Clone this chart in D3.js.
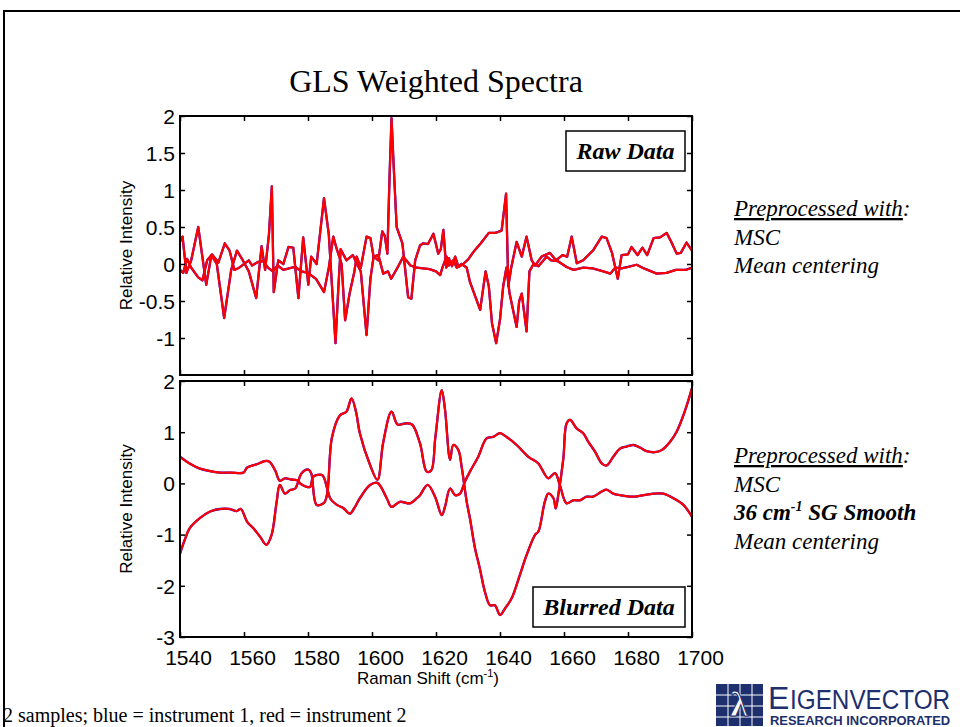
<!DOCTYPE html>
<html>
<head>
<meta charset="utf-8">
<script src="https://cdn.jsdelivr.net/npm/d3@7"></script>
<style>
  body { margin: 0; background: #fff; }
  svg { display: block; }
</style>
</head>
<body>
<div id="chart"></div>
<script>
// x ticks (Raman shift, cm-1)
const xTicks = [1540, 1560, 1580, 1600, 1620, 1640, 1660, 1680, 1700];
const rawYTicks = [-1, -0.5, 0, 0.5, 1, 1.5, 2];
const blurYTicks = [-3, -2, -1, 0, 1, 2];

// raw spectra, [wavenumber, intensity]
const rawSample1 = [[1540,0.30],[1540.8,0.37],[1542,-0.12],[1543.5,0.05],[1545.7,0.50],[1548.2,-0.28],[1549.8,0.12],[1551.5,0.00],[1553.8,-0.73],[1556,-0.08],[1557.8,0.18],[1559.5,0.06],[1561.5,-0.10],[1563.8,-0.46],[1565.5,0.24],[1566.6,-0.08],[1567.8,0.40],[1568.7,1.05],[1569.3,-0.38],[1570.7,0.05],[1572.3,0.00],[1573.9,0.23],[1575.4,0.22],[1577,-0.46],[1578.5,0.36],[1580.1,-0.28],[1581,0.10],[1582.7,0.00],[1585,0.89],[1586.5,0.40],[1587.5,-0.30],[1588.6,-1.07],[1589.5,-0.30],[1590.2,0.20],[1592,0.05],[1594,0.12],[1596.5,-0.10],[1598.3,-0.96],[1599.5,-0.20],[1600.5,0.10],[1602,0.05],[1603.2,0.44],[1604,0.38],[1604.8,0.14],[1605.5,1.20],[1606.1,1.97],[1606.8,1.30],[1607.7,0.50],[1609.5,0.28],[1611.3,-0.45],[1612.3,-0.47],[1613.5,0.05],[1615,0.25],[1616,0.28],[1617.5,0.27],[1619.2,0.41],[1620.7,0.14],[1621.5,0.20],[1622.3,0.46],[1623.2,-0.05],[1624,0.08],[1625,-0.03],[1626,0.10],[1627,-0.04],[1628.5,0.00],[1630,0.06],[1632,0.18],[1634,0.28],[1636.5,0.42],[1638.5,0.42],[1640.5,0.45],[1641.9,0.95],[1642.6,-0.30],[1643.5,-0.05],[1645.2,0.30],[1646.8,0.10],[1648.3,0.37],[1649.9,0.05],[1651,-0.02],[1653,0.10],[1655.6,0.15],[1657.5,0.05],[1659.5,0.12],[1661,0.10],[1662.4,0.37],[1664,0.01],[1666,0.05],[1669.2,0.19],[1671.8,0.37],[1673.3,0.35],[1675,0.15],[1676.8,-0.20],[1678,0.12],[1680,0.13],[1681.1,0.23],[1683,0.12],[1684.5,0.22],[1686,0.12],[1688,0.35],[1690,0.36],[1692.1,0.42],[1693.5,0.30],[1695.2,0.14],[1696.5,0.15],[1698.3,0.29],[1700,0.18]];
const rawSample2 = [[1540,-0.08],[1541,-0.12],[1542.2,0.07],[1543.5,-0.05],[1545.7,-0.18],[1547,-0.22],[1548.5,0.05],[1550,0.13],[1552,0.02],[1554,0.28],[1555.5,0.18],[1557,-0.08],[1558.5,-0.05],[1560,0.00],[1561.5,0.05],[1562.5,-0.02],[1564.5,0.03],[1566,0.04],[1567.5,-0.05],[1569,-0.10],[1570.5,-0.02],[1572.3,-0.08],[1574,-0.06],[1576,-0.04],[1578,-0.10],[1580,-0.12],[1582.5,-0.20],[1585,-0.38],[1586.5,-0.05],[1587.9,0.37],[1589,0.20],[1590.5,0.00],[1591.6,-0.76],[1593,-0.40],[1594.5,-0.10],[1595.2,0.10],[1596.5,-0.05],[1598.3,0.37],[1599.5,0.35],[1600.5,0.10],[1602,0.12],[1603.5,-0.13],[1605,-0.10],[1606,-0.20],[1607.7,-0.07],[1609.8,0.10],[1612,-0.02],[1614,-0.05],[1616,-0.06],[1618,-0.07],[1620,-0.10],[1621.3,-0.15],[1622,-0.05],[1623.3,0.10],[1624,-0.02],[1625.4,0.05],[1626.5,-0.05],[1628,0.00],[1629.6,-0.05],[1630.6,-0.24],[1633.8,-0.62],[1635.5,-0.10],[1636.5,-0.30],[1637.5,-0.80],[1638.8,-1.07],[1640,-0.75],[1641,-0.30],[1642,-0.05],[1643,-0.40],[1645.2,-0.85],[1646,-0.50],[1646.8,-0.40],[1648.3,-0.91],[1649.2,-0.10],[1650.5,0.00],[1652,-0.03],[1654.6,0.10],[1656,0.05],[1658,0.04],[1660.8,-0.04],[1663,-0.08],[1666,-0.05],[1669,-0.06],[1672.3,-0.10],[1674.5,-0.13],[1676,-0.05],[1678,-0.06],[1680,-0.04],[1682.7,-0.01],[1685,-0.06],[1689,-0.13],[1692,-0.12],[1695,-0.08],[1698,-0.08],[1700,-0.05]];

// smoothed ("blurred") spectra
const blurSample1 = [[1540,0.52],[1543,0.39],[1546.2,0.29],[1549.4,0.24],[1552.5,0.21],[1556,0.21],[1559.8,0.21],[1561,0.31],[1563.8,0.37],[1566.9,0.44],[1568,0.42],[1569.7,0.26],[1571.2,0.05],[1572.8,0.10],[1574.5,0.08],[1576.5,0.06],[1578,-0.02],[1580.6,-0.07],[1581.5,0.12],[1582.5,0.16],[1584.5,0.16],[1586,-0.10],[1587,-0.30],[1589,-0.42],[1591,-0.48],[1593.1,-0.59],[1594.5,-0.48],[1596.2,-0.29],[1599.4,-0.03],[1601.7,0.01],[1604.6,-0.29],[1606.1,-0.46],[1608.7,-0.36],[1611.9,-0.39],[1614,-0.29],[1615,-0.23],[1617.4,-0.03],[1619.7,-0.26],[1621.8,-0.62],[1622.8,-0.46],[1624.4,-0.10],[1626,-0.23],[1627.5,-0.20],[1629,0.03],[1630.6,0.23],[1633.2,0.52],[1635.8,0.88],[1637.9,0.91],[1640,0.98],[1642,0.91],[1645.2,0.75],[1648.9,0.52],[1652,0.39],[1653,0.29],[1655.1,0.10],[1657.2,0.20],[1658.7,-0.03],[1660.8,-0.39],[1662.9,-0.33],[1665,-0.33],[1667,-0.26],[1669,-0.26],[1671.8,-0.16],[1673.3,-0.12],[1675.4,-0.20],[1677.5,-0.23],[1681.7,-0.26],[1684,-0.24],[1688,-0.20],[1691,-0.20],[1694.2,-0.29],[1697.3,-0.42],[1700,-0.65]];
const blurSample2 = [[1540,-1.37],[1541.5,-1.10],[1543,-0.88],[1546.2,-0.68],[1549.4,-0.55],[1552.5,-0.50],[1555.5,-0.50],[1557.7,-0.54],[1559,-0.50],[1561,-0.75],[1563,-0.88],[1565,-1.04],[1567,-1.20],[1568.6,-1.01],[1570.2,-0.36],[1571.2,-0.03],[1572.8,-0.20],[1574.4,-0.13],[1576,-0.10],[1578,0.20],[1580.1,0.27],[1581,0.20],[1582.7,-0.42],[1585,-0.38],[1586,-0.20],[1587.5,0.90],[1590,1.33],[1592,1.40],[1593.6,1.66],[1595,1.40],[1596.2,0.98],[1599.4,0.36],[1601.7,0.07],[1603.5,0.80],[1606.1,1.40],[1608,1.15],[1610.3,1.17],[1612.5,1.15],[1615,0.78],[1617.1,0.23],[1618.5,0.25],[1619.8,0.90],[1621.8,1.82],[1622.8,1.45],[1624.4,0.46],[1625.4,0.75],[1627,0.65],[1628,0.33],[1629.6,-0.36],[1630.6,-0.68],[1632.2,-1.27],[1633.7,-1.66],[1635.3,-2.12],[1636.9,-2.38],[1638.4,-2.38],[1640,-2.57],[1641.6,-2.44],[1643.6,-2.25],[1646.2,-1.79],[1648.3,-1.40],[1651,-1.00],[1652,-0.94],[1654,-0.36],[1655.1,-0.20],[1656.7,-0.29],[1657.4,-0.49],[1658.2,-0.23],[1659.8,0.49],[1660.8,1.17],[1661.9,1.24],[1664,1.07],[1666,0.98],[1667.6,0.81],[1669.7,0.62],[1671.8,0.39],[1673.3,0.35],[1675.4,0.52],[1677.5,0.68],[1679.6,0.72],[1681.7,0.75],[1683.7,0.70],[1685.8,0.63],[1688.4,0.61],[1690.5,0.65],[1693.1,0.81],[1695.2,1.01],[1697.3,1.33],[1698.9,1.63],[1700,1.86]];

// instrument 1 (blue) and instrument 2 (red) overlap almost exactly
const instruments = [
    { name: "instrument 1", color: "#0000ff", width: 2.3 },
    { name: "instrument 2", color: "#ff0000", width: 2.2 }
];

const width = 960, height = 727;
const sans = "'Liberation Sans', Arial, Helvetica, sans-serif";
const serif = "'Liberation Serif', 'Times New Roman', Times, serif";

const svg = d3.select("#chart").append("svg")
    .attr("width", width)
    .attr("height", height);

// slide frame
svg.append("path")
    .attr("d", "M4,727 V11 H960")
    .attr("fill", "none")
    .attr("stroke", "#000")
    .attr("stroke-width", 2);

svg.append("text")
    .attr("x", 436).attr("y", 92)
    .attr("text-anchor", "middle")
    .attr("font-family", serif)
    .attr("font-size", 32)
    .text("GLS Weighted Spectra");

const x = d3.scaleLinear().domain([1540, 1700]).range([180, 692]);

const panels = [
    { id: "raw", top: 116, bottom: 375, domain: [-1.5, 2], yTicks: rawYTicks,
      samples: [rawSample1, rawSample2], curve: d3.curveLinear, xLabels: false,
      tag: "Raw Data", tagBox: [566, 131, 119, 40] },
    { id: "blur", top: 381, bottom: 637, domain: [-3, 2], yTicks: blurYTicks,
      samples: [blurSample1, blurSample2], curve: d3.curveCatmullRom.alpha(0.5), xLabels: true,
      tag: "Blurred Data", tagBox: [533, 587, 152, 40] }
];

panels.forEach(p => {
    const y = d3.scaleLinear().domain(p.domain).range([p.bottom, p.top]);
    const g = svg.append("g").attr("class", "panel-" + p.id);

    g.append("clipPath").attr("id", "clip-" + p.id)
        .append("rect")
        .attr("x", x.range()[0]).attr("y", p.top)
        .attr("width", x.range()[1] - x.range()[0])
        .attr("height", p.bottom - p.top);

    const line = d3.line()
        .x(d => x(d[0]))
        .y(d => y(d[1]))
        .curve(p.curve);

    // blue first, red on top
    instruments.forEach(inst => {
        g.append("g")
            .attr("clip-path", `url(#clip-${p.id})`)
            .selectAll("path")
            .data(p.samples)
            .join("path")
            .attr("d", line)
            .attr("fill", "none")
            .attr("stroke", inst.color)
            .attr("stroke-width", inst.width)
            .attr("stroke-linejoin", "round");
    });

    // ticks on all four sides, pointing in
    const fmt = d => String(d);
    const left = g.append("g").attr("transform", `translate(${x.range()[0]},0)`)
        .call(d3.axisLeft(y).tickValues(p.yTicks).tickSizeInner(-5).tickSizeOuter(0).tickPadding(5).tickFormat(fmt));
    const right = g.append("g").attr("transform", `translate(${x.range()[1]},0)`)
        .call(d3.axisRight(y).tickValues(p.yTicks).tickSizeInner(-5).tickSizeOuter(0).tickFormat(""));
    const top = g.append("g").attr("transform", `translate(0,${p.top})`)
        .call(d3.axisTop(x).tickValues(xTicks).tickSizeInner(-5).tickSizeOuter(0).tickFormat(""));
    const bottom = g.append("g").attr("transform", `translate(0,${p.bottom})`)
        .call(d3.axisBottom(x).tickValues(xTicks).tickSizeInner(-5).tickSizeOuter(0).tickPadding(12)
            .tickFormat(p.xLabels ? fmt : ""));

    [left, right, top, bottom].forEach(a => {
        a.select(".domain").remove();
        a.selectAll(".tick line").attr("stroke-width", 1.5);
        a.selectAll("text")
            .attr("font-family", sans)
            .attr("font-size", 21)
            .attr("fill", "#000");
    });
    left.selectAll("text").attr("dy", "0.35em");
    bottom.selectAll("text").attr("dx", 8).attr("dy", "0.75em");

    g.append("rect")
        .attr("x", x.range()[0]).attr("y", p.top)
        .attr("width", x.range()[1] - x.range()[0])
        .attr("height", p.bottom - p.top)
        .attr("fill", "none")
        .attr("stroke", "#000")
        .attr("stroke-width", 2);

    g.append("text")
        .attr("transform", `translate(132,${(p.top + p.bottom) / 2}) rotate(-90)`)
        .attr("text-anchor", "middle")
        .attr("font-family", sans)
        .attr("font-size", 17)
        .text("Relative Intensity");

    const [bx, by, bw, bh] = p.tagBox;
    g.append("rect")
        .attr("x", bx).attr("y", by).attr("width", bw).attr("height", bh)
        .attr("fill", "#fff")
        .attr("stroke", "#000")
        .attr("stroke-width", 1.5);
    g.append("text")
        .attr("x", bx + bw / 2).attr("y", by + bh / 2 + 8)
        .attr("text-anchor", "middle")
        .attr("font-family", serif)
        .attr("font-size", 24)
        .attr("font-weight", "bold")
        .attr("font-style", "italic")
        .text(p.tag);
});

// x axis title
const xt = svg.append("text")
    .attr("x", 428).attr("y", 684)
    .attr("text-anchor", "middle")
    .attr("font-family", sans)
    .attr("font-size", 17);
xt.append("tspan").text("Raman Shift (cm");
xt.append("tspan").attr("font-size", 11).attr("dy", -7).text("-1");
xt.append("tspan").attr("dy", 7).text(")");

// notes on the right
function note(y0, lines) {
    const t = svg.append("text")
        .attr("font-family", serif)
        .attr("font-size", 23)
        .attr("font-style", "italic");
    lines.forEach((ln, i) => {
        const ts = t.append("tspan").attr("x", 734).attr("y", y0 + i * 28.5);
        ln(ts);
    });
}
const underlined = ts => {
    ts.append("tspan").style("text-decoration", "underline").text("Preprocessed with");
    ts.append("tspan").text(":");
};
note(216, [
    underlined,
    ts => ts.text("MSC"),
    ts => ts.text("Mean centering")
]);
note(463, [
    underlined,
    ts => ts.text("MSC"),
    ts => {
        ts.attr("font-weight", "bold");
        ts.append("tspan").text("36 cm");
        ts.append("tspan").attr("font-size", 14).attr("dy", -9).text("-1");
        ts.append("tspan").attr("dy", 9).text(" SG Smooth");
    },
    ts => ts.text("Mean centering")
]);

svg.append("text")
    .attr("x", 3).attr("y", 722)
    .attr("font-family", serif)
    .attr("font-size", 20)
    .text("2 samples; blue = instrument 1, red = instrument 2");

// company logo
const navy = "#1e2f6d";
const logo = svg.append("g");
logo.append("rect").attr("x", 716).attr("y", 684).attr("width", 47).attr("height", 42).attr("fill", navy);
[695, 706, 717].forEach(v => {
    logo.append("line").attr("x1", 716).attr("x2", 763).attr("y1", v).attr("y2", v)
        .attr("stroke", "#fff").attr("stroke-width", 1);
});
[728, 740, 752].forEach(v => {
    logo.append("line").attr("x1", v).attr("x2", v).attr("y1", 684).attr("y2", 726)
        .attr("stroke", "#fff").attr("stroke-width", 1);
});
logo.append("text").attr("x", 739).attr("y", 716).attr("text-anchor", "middle")
    .attr("font-family", serif).attr("font-size", 36).attr("font-weight", "bold")
    .attr("fill", "#fff").attr("stroke", navy).attr("stroke-width", 1).text("λ");
logo.append("text").attr("x", 768).attr("y", 709)
    .attr("font-family", sans).attr("font-size", 32).attr("fill", navy)
    .text("E");
logo.append("text").attr("transform", "translate(790,709) scale(0.9,1)")
    .attr("font-family", sans).attr("font-size", 27).attr("fill", navy)
    .text("IGENVECTOR");
logo.append("text").attr("transform", "translate(770,725) scale(1.08,1)")
    .attr("font-family", sans).attr("font-size", 12).attr("font-weight", "bold").attr("fill", navy)
    .text("RESEARCH INCORPORATED");
</script>
</body>
</html>
